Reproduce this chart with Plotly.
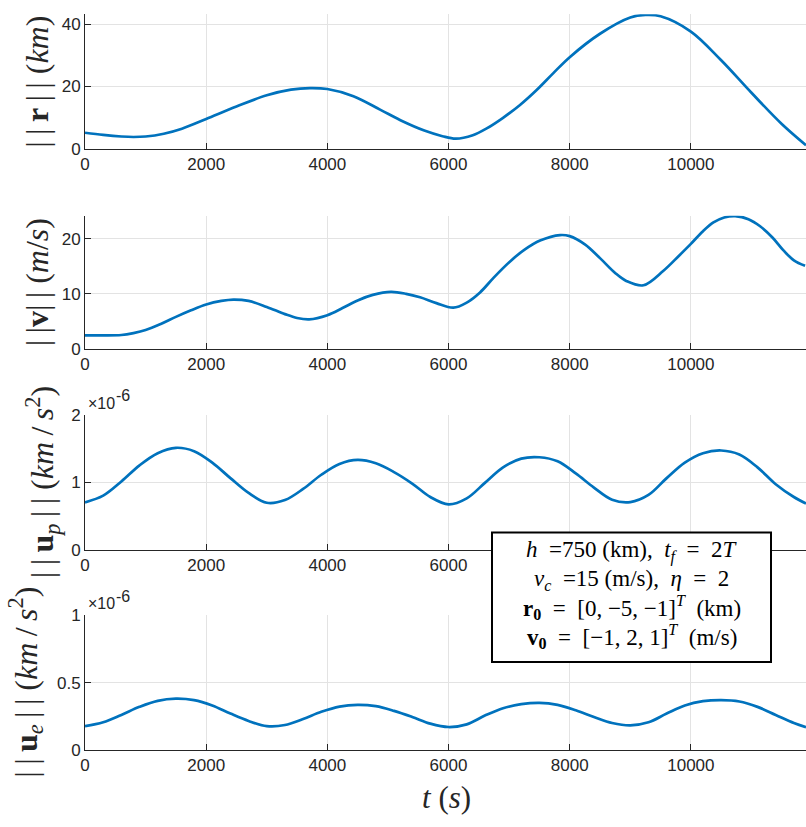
import plotly.graph_objects as go

# ---- data ----
t_r = [0, 300, 600, 800, 1000, 1300, 1600, 2000, 2500, 3000, 3400, 3713, 4000, 4430, 4870,
       5250, 5600, 5900, 6120, 6400, 6630, 6900, 7180, 7450, 7730, 8000, 8500, 9000, 9250,
       9500, 10000, 10500, 11000, 11500, 11900]
r_norm = [5.2, 4.5, 4.0, 3.85, 4.0, 4.9, 6.5, 9.6, 13.6, 17.2, 19.0, 19.5, 19.2, 16.9, 12.6,
          8.8, 5.9, 4.1, 3.3, 4.4, 6.6, 10.0, 14.1, 18.8, 24.3, 29.4, 36.9, 42.1, 42.9,
          42.5, 37.6, 28.4, 18.0, 8.0, 1.2]

t_v = [0, 300, 600, 800, 1000, 1250, 1500, 1750, 2000, 2250, 2450, 2700, 3000, 3300, 3500,
       3700, 4000, 4250, 4500, 4750, 5050, 5300, 5530, 5800, 6080, 6300, 6520, 6750, 7016,
       7250, 7511, 7841, 8000, 8250, 8500, 8750, 8941, 9217, 9547, 9800, 10000, 10200,
       10372, 10550, 10730, 10950, 11143, 11350, 11528, 11700, 11885]
v_norm = [2.43, 2.43, 2.5, 2.85, 3.4, 4.5, 5.8, 7.0, 8.05, 8.7, 8.95, 8.7, 7.6, 6.3, 5.6,
          5.35, 6.1, 7.4, 8.8, 9.8, 10.35, 10.0, 9.36, 8.3, 7.47, 8.4, 10.25, 13.0, 15.9,
          18.0, 19.7, 20.7, 20.5, 19.0, 16.5, 13.8, 12.3, 11.55, 14.2, 16.9, 19.1, 21.4,
          23.0, 23.9, 24.15, 23.6, 22.3, 20.2, 17.9, 16.1, 15.1]

t_u = [0, 300, 600, 900, 1200, 1500, 1800, 2100, 2400, 2700, 3000, 3300, 3600, 3900, 4200,
       4500, 4800, 5100, 5400, 5700, 6000, 6300, 6600, 6900, 7200, 7500, 7800, 8100, 8400,
       8700, 9000, 9300, 9600, 9900, 10200, 10500, 10800, 11100, 11400, 11700, 11900]
up_norm = [0.70e-6, 0.80e-6, 1.01e-6, 1.25e-6, 1.43e-6, 1.51e-6, 1.46e-6, 1.29e-6, 1.06e-6,
           0.84e-6, 0.695e-6, 0.735e-6, 0.90e-6, 1.11e-6, 1.27e-6, 1.33e-6, 1.28e-6, 1.15e-6,
           0.98e-6, 0.78e-6, 0.67e-6, 0.76e-6, 0.99e-6, 1.22e-6, 1.35e-6, 1.37e-6, 1.31e-6,
           1.13e-6, 0.92e-6, 0.74e-6, 0.705e-6, 0.81e-6, 1.06e-6, 1.29e-6, 1.43e-6, 1.47e-6,
           1.41e-6, 1.22e-6, 0.97e-6, 0.78e-6, 0.685e-6]
ue_norm = [0.176e-6, 0.205e-6, 0.26e-6, 0.32e-6, 0.365e-6, 0.381e-6, 0.37e-6, 0.33e-6,
           0.27e-6, 0.215e-6, 0.177e-6, 0.185e-6, 0.23e-6, 0.283e-6, 0.322e-6, 0.335e-6,
           0.325e-6, 0.29e-6, 0.245e-6, 0.195e-6, 0.17e-6, 0.19e-6, 0.255e-6, 0.31e-6,
           0.34e-6, 0.35e-6, 0.335e-6, 0.295e-6, 0.245e-6, 0.2e-6, 0.182e-6, 0.205e-6,
           0.27e-6, 0.33e-6, 0.362e-6, 0.37e-6, 0.36e-6, 0.32e-6, 0.26e-6, 0.2e-6, 0.169e-6]

x_ticks = [0, 2000, 4000, 6000, 8000, 10000]
x_ticktext = ["0", "2000", "4000", "6000", "8000", "10000"]
y_ticks = [[0, 20, 40], [0, 10, 20], [0, 1e-6, 2e-6], [0, 0.5e-6, 1e-6]]
y_ticktext = [["0", "20", "40"], ["0", "10", "20"], ["0", "1", "2"], ["0", "0.5", "1"]]
y_ranges = [[0, 43.1], [0, 24.2], [0, 2e-6], [0, 1e-6]]
NB = "\u00a0"
TH = "\u2009"
BARS = "|" + TH + "|"
y_titles = [BARS + TH + "<b>r</b>" + TH + BARS + NB + "(<i>km</i>)",
            BARS + "<b>v</b>" + BARS + NB + "(<i>m</i>/<i>s</i>)",
            BARS + TH + "<b>u</b><sub><i>p</i></sub>" + TH + BARS + NB
            + "(<i>km</i>" + TH + "/" + TH + "<i>s</i><sup>2</sup>)",
            BARS + TH + "<b>u</b><sub><i>e</i></sub>" + TH + BARS + NB
            + "(<i>km</i>" + TH + "/" + TH + "<i>s</i><sup>2</sup>)"]
info_lines = ["<i>h</i>" + NB * 2 + "=750 (km)," + NB * 2 + "<i>t<sub>f</sub></i>" + NB * 2 + "=" + NB * 2 + "2<i>T</i>",
              "<i>v<sub>c</sub></i>" + NB * 2 + "=15 (m/s)," + NB * 2 + "<i>η</i>" + NB * 2 + "=" + NB * 2 + "2",
              "<b>r<sub>0</sub></b>" + NB * 2 + "=" + NB * 2 + "[0," + NB + "−5," + NB + "−1]<sup><i>T</i></sup>" + NB * 2 + "(km)",
              "<b>v<sub>0</sub></b>" + NB * 2 + "=" + NB * 2 + "[−1," + NB + "2," + NB + "1]<sup><i>T</i></sup>" + NB * 2 + "(m/s)"]

# ---- layout geometry (pixels) ----
W, H = 806, 827
L = 85
px_rows = [(5.5, 143.3), (211.7, 347.7), (415.3, 553.3), (620.7, 758.3)]
title_x = [37, 37, 42, 26]
title_size = [32, 32, 32, 32]
blue = "#0072BD"
axc = "#262626"
gridc = "#e3e3e3"
sans = "Liberation Sans, Arial, sans-serif"
serif = "Liberation Serif, serif"


def px_x(p):
    return (p - L) / (W - L)


def px_y(p):
    return 1 - p / H


fig = go.Figure()
series = [(t_r, r_norm), (t_v, v_norm), (t_u, up_norm), (t_u, ue_norm)]
for i, (tx, ty) in enumerate(series):
    sfx = "" if i == 0 else str(i + 1)
    fig.add_trace(go.Scatter(x=tx, y=ty, mode="lines", xaxis="x" + sfx, yaxis="y" + sfx,
                             line=dict(color=blue, width=2.7, shape="spline", smoothing=1.0),
                             showlegend=False, hoverinfo="skip"))

layout = dict(width=W, height=H, autosize=False, margin=dict(l=L, r=0, t=0, b=0),
              paper_bgcolor="white", plot_bgcolor="white", showlegend=False)
annotations = []
for i, (top, bot) in enumerate(px_rows):
    sfx = "" if i == 0 else str(i + 1)
    dom = [px_y(bot), px_y(top)]
    xt = list(x_ticktext)
    if i == 2:  # these two labels sit under the info box in the reference
        xt[4] = ""
        xt[5] = ""
    layout["xaxis" + sfx] = dict(
        domain=[0, 1], anchor="y" + sfx, range=[0, 11900], tickvals=x_ticks,
        ticktext=xt, ticks="inside", ticklen=6, tickcolor=axc, showline=True,
        linecolor=axc, linewidth=1, showgrid=True, gridcolor=gridc, gridwidth=1,
        zeroline=False, tickfont=dict(family=sans, size=17, color=axc))
    layout["yaxis" + sfx] = dict(
        domain=dom, anchor="x" + sfx, range=y_ranges[i], tickvals=y_ticks[i],
        ticktext=y_ticktext[i], ticks="inside", ticklen=6, tickcolor=axc, showline=True,
        linecolor=axc, linewidth=1, showgrid=True, gridcolor=gridc, gridwidth=1,
        zeroline=False, tickfont=dict(family=sans, size=17, color=axc))
    annotations.append(dict(
        text=y_titles[i], textangle=-90, xref="paper", yref="paper",
        x=px_x(title_x[i]), y=(dom[0] + dom[1]) / 2, xanchor="center", yanchor="middle",
        showarrow=False, font=dict(family=serif, size=title_size[i], color=axc)))
    if i >= 2:
        annotations.append(dict(
            text="×10", xref="paper", yref="paper", x=px_x(86), y=px_y(top - 1),
            xanchor="left", yanchor="bottom", showarrow=False,
            font=dict(family=sans, size=16, color=axc)))
        annotations.append(dict(
            text="-6", xref="paper", yref="paper", x=px_x(114), y=px_y(top - 9),
            xanchor="left", yanchor="bottom", showarrow=False,
            font=dict(family=sans, size=16, color=axc)))

annotations.append(dict(
    text="<i>t</i>" + NB + "(<i>s</i>)", xref="paper", yref="paper",
    x=px_x(446), y=px_y(807), xanchor="center", yanchor="middle", showarrow=False,
    font=dict(family=serif, size=31, color=axc)))

# info box
box = (492, 535.7, 771, 668.3)
shapes = [dict(type="rect", xref="paper", yref="paper", x0=px_x(box[0]), x1=px_x(box[2]),
               y0=px_y(box[3]), y1=px_y(box[1]), fillcolor="white",
               line=dict(color="black", width=2), layer="above")]
line_y = [555, 584, 613, 642]
for txt, yy in zip(info_lines, line_y):
    annotations.append(dict(
        text=txt, xref="paper", yref="paper", x=px_x((box[0] + box[2]) / 2), y=px_y(yy),
        xanchor="center", yanchor="middle", showarrow=False,
        font=dict(family=serif, size=23, color="black")))

layout["annotations"] = annotations
layout["shapes"] = shapes
fig.update_layout(**layout)

post = "document.body.style.margin='0';document.body.style.overflow='hidden';"
fig.write_html("out.html", config={"displayModeBar": False}, post_script=post)
